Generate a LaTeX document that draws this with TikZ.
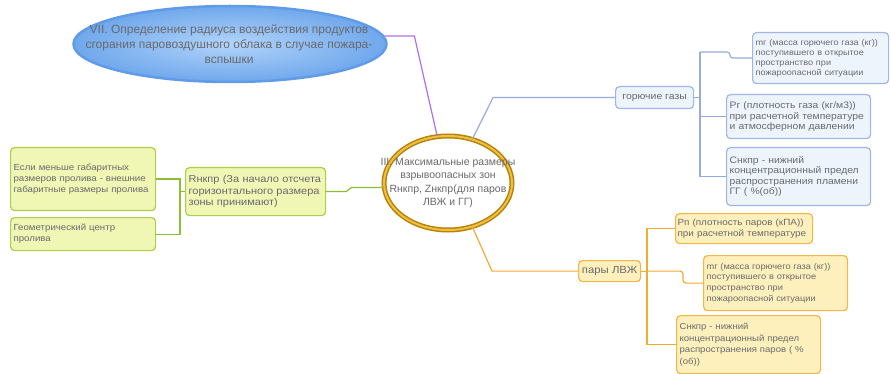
\documentclass[tikz,border=0pt]{standalone}
\usepackage{fontspec}
\setmainfont{Liberation Sans}
\newfontfamily\boxfont[FakeStretch=1.1]{Liberation Sans}
\usetikzlibrary{shapes.geometric}
\definecolor{txtgrey}{RGB}{105,105,108}
\definecolor{gasline}{RGB}{150,170,225}
\definecolor{gasfill}{RGB}{238,244,252}
\definecolor{gasborder}{RGB}{160,182,228}
\definecolor{lvzhline}{RGB}{242,170,50}
\definecolor{lvzhfill}{RGB}{254,240,188}
\definecolor{lvzhborder}{RGB}{244,182,72}
\definecolor{zoneline}{RGB}{140,190,50}
\definecolor{zonefill}{RGB}{240,246,180}
\definecolor{zoneborder}{RGB}{172,206,72}
\definecolor{topicline}{RGB}{175,110,240}
\definecolor{topicborder}{RGB}{95,155,232}
\definecolor{ringdark}{RGB}{185,130,10}
\definecolor{ringlight}{RGB}{236,192,64}

\begin{document}
\begin{tikzpicture}[x=1pt,y=-1pt,
  fs/.style 2 args={font=\boxfont\fontsize{#1}{#2}\selectfont},
  ts/.style 2 args={font=\fontsize{#1}{#2}\selectfont},
  leaf/.style={draw, rounded corners=4pt, line width=1.2pt, anchor=north west, inner sep=3pt, align=left, text=txtgrey},
  gasbox/.style={leaf, draw=gasborder, fill=gasfill},
  lvzhbox/.style={leaf, draw=lvzhborder, fill=lvzhfill},
  zonebox/.style={leaf, draw=zoneborder, fill=zonefill},
  link/.style={line width=1.2pt}]
\useasboundingbox (0,0) rectangle (891,374);

% top topic
\node (topic) at (230,44) [ellipse, minimum width=313pt, minimum height=76pt, inner sep=0pt, draw=topicborder, line width=2.5pt, inner color={rgb,255:red,178;green,212;blue,250}, outer color={rgb,255:red,112;green,168;blue,236}] {};
\node (topictext) at (229,44) [ts={12}{15}, align=center, text=txtgrey] {VII. Определение радиуса воздействия продуктов\\ сгорания паровоздушного облака в случае пожара-\\ вспышки};

% central topic
\node (centre) at (448,183) [ellipse, minimum width=128pt, minimum height=94pt, inner sep=0pt, draw=ringdark, double=ringlight, double distance=2pt, line width=1.5pt] {};
\node (centretext) at (448,183) [ts={10.5}{13.5}, align=center, text=txtgrey] {III. Максимальные размеры\\ взрывоопасных зон\\ Rнкпр, Zнкпр(для паров\\ ЛВЖ и ГГ)};

% gases
\node (gas) at (615,86) [gasbox, fs={9.5}{11}, minimum width=78pt, minimum height=22pt] {горючие газы};
\node (gasmass) at (752,32) [gasbox, fs={8.3}{10}, minimum height=51pt, text width=130pt] {mг (масса горючего газа (кг))\\ поступившего в открытое\\ пространство при\\ пожароопасной ситуации};
\node (gasdens) at (726,94) [gasbox, fs={9.4}{10.5}, minimum height=44pt, text width=138pt] {Pг (плотность газа (кг/м3))\\ при расчетной температуре\\ и атмосферном давлении};
\node (gaslimit) at (726,147) [gasbox, fs={9.4}{10.5}, minimum height=58pt, text width=138pt] {Снкпр - нижний\\ концентрационный предел\\ распространения пламени\\ ГГ ( \%(об))};

% vapours
\node (lvzh) at (578,260) [lvzhbox, fs={10.3}{12}, minimum width=62pt, minimum height=21pt] {пары ЛВЖ};
\node (density) at (675,213) [lvzhbox, fs={9}{11.5}, minimum height=30pt, inner xsep=2pt, text width=133pt] {Pп (плотность паров (кПА))\\ при расчетной температуре};
\node (lvzhmass) at (703,255) [lvzhbox, fs={8.4}{10.8}, minimum height=55pt, text width=138pt] {mг (масса горючего газа (кг))\\ поступившего в открытое\\ пространство при\\ пожароопасной ситуации};
\node (lvzhlimit) at (676,315) [lvzhbox, fs={8.7}{11.5}, minimum height=58pt, text width=138pt] {Снкпр - нижний\\ концентрационный предел\\ распространения паров ( \%\\ (об))};

% zone origin
\node (zone) at (185,167) [zonebox, fs={10}{11.7}, minimum height=48pt, text width=134pt] {Rнкпр (За начало отсчета\\ горизонтального размера\\ зоны принимают)};
\node (spillsize) at (10,147) [zonebox, fs={8.8}{11}, minimum height=63pt, text width=139pt] {Если меньше габаритных\\ размеров пролива - внешние\\ габаритные размеры пролива};
\node (spillcentre) at (10,217) [zonebox, fs={8.8}{11}, minimum height=33pt, text width=139pt] {Геометрический центр\\ пролива};

\coordinate (gaselbow) at (493,0);
\coordinate (gastop) at (700,52);
\coordinate (lvzhelbow) at (492,0);
\coordinate (lvzhfork) at (647,0);
\coordinate (zonefork) at (180,0);

\draw[link, topicline] (topic.3) -- ++(30,0) -- (centre.103);
\draw[link, gasline] (centre.61) -- (gaselbow |- gas.west) -- (gas.west);
\draw[link, gasline] (gas.east) -- (gastop |- gas.east);
\draw[link, gasline] (gastop) -- (gastop |- gaslimit.west) -- (gaslimit.west);
\draw[link, gasline, rounded corners=3pt] (gastop) -- ++(30,0) |- (gasmass.west);
\draw[link, gasline] (gastop |- gasdens.west) -- (gasdens.west);
\draw[link, lvzhline] (centre.-61) -- (lvzhelbow |- lvzh.west) -- (lvzh.west);
\draw[link, lvzhline] (lvzh.east) -- (lvzhfork |- lvzh.east);
\draw[link, lvzhline] (density.west) -- (lvzhfork |- density.west) -- (lvzhfork |- lvzhlimit.west) -- (lvzhlimit.west);
\draw[link, lvzhline, rounded corners=3pt] (lvzhfork |- lvzh.east) -- ++(36,0) |- (lvzhmass.west);
\draw[link, zoneline] (zone.east) -- ++(20,0) -- ++(5,-4) -- (centre.184);
\draw[link, zoneline] (spillsize.east) -- (spillsize.east -| zonefork) |- (spillcentre.east);
\draw[link, zoneline] (zonefork |- zone.west) -- (zone.west);
\end{tikzpicture}
\end{document}
